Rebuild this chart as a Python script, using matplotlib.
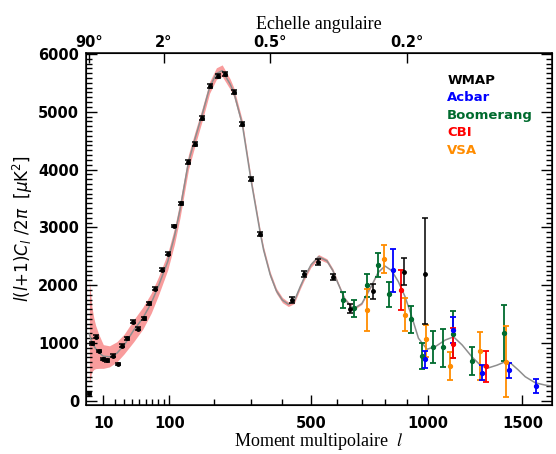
import numpy as np
import matplotlib.pyplot as plt
from matplotlib.ticker import FixedLocator, MultipleLocator, AutoMinorLocator, NullFormatter

# theory curve (l, D_l in muK^2) and its band half widths
theory_l = [2, 3, 4, 5, 7, 10, 15, 22, 30, 42, 55, 68, 80, 97, 110, 121, 139, 153, 170, 188,
            205, 220, 241, 251, 275, 300, 329, 339, 360, 380, 400, 420, 440, 461, 475, 500,
            528, 560, 583, 600, 630, 665, 700, 740, 770, 800, 830, 860, 891, 920, 954, 995,
            1035, 1085, 1127, 1171, 1222, 1265, 1302, 1357, 1403, 1431, 1477, 1516, 1574, 1633, 1673]
theory_D = [1150, 1020, 950, 900, 830, 770, 760, 820, 960, 1220, 1430, 1690, 1980, 2410, 2850, 3300,
            4130, 4520, 4950, 5420, 5660, 5710, 5480, 5340, 4790, 3840, 2890, 2610, 2180, 1900,
            1740, 1670, 1720, 1970, 2120, 2350, 2490, 2420, 2250, 2060, 1760, 1590, 1680, 1980,
            2220, 2330, 2250, 2060, 1800, 1480, 1080, 890, 935, 1050, 1105, 965, 760, 620, 560,
            615, 675, 655, 530, 415, 310, 270, 255]
band_up = [940, 620, 480, 400, 310, 200, 190, 200, 190, 180, 190, 170, 160, 145, 140, 140, 130, 120,
           110, 100, 100, 100, 90, 80, 70, 60, 55, 55, 50, 45, 45, 40, 40, 40, 40, 40, 40, 35, 35,
           30, 25, 20, 15, 10, 5, 0, 0, 0, 0, 0, 0, 0, 0, 0, 0, 0, 0, 0, 0, 0, 0, 0, 0, 0, 0, 0, 0]
band_dn = [850, 520, 410, 345, 270, 210, 175, 150, 150, 200, 190, 175, 160, 145, 140, 140, 130, 120,
           110, 100, 100, 100, 90, 80, 70, 60, 55, 55, 50, 45, 45, 40, 40, 40, 40, 40, 40, 35, 35,
           30, 25, 20, 15, 10, 5, 0, 0, 0, 0, 0, 0, 0, 0, 0, 0, 0, 0, 0, 0, 0, 0, 0, 0, 0, 0, 0, 0]

# WMAP
wmap_l = [2, 3, 5, 7, 10, 13, 18, 23, 28, 34, 41, 48, 56, 65, 75, 86, 97, 109, 123, 139, 153, 170,
          188, 208, 228, 251, 275, 300, 329, 432, 475, 526, 583, 653, 747, 886, 983]
wmap_D = [128, 993, 1107, 860, 721, 699, 779, 635, 952, 1080, 1367, 1246, 1425, 1685, 1938, 2267,
          2543, 3022, 3415, 4135, 4446, 4896, 5450, 5623, 5652, 5346, 4787, 3836, 2884, 1742,
          2187, 2405, 2140, 1592, 1898, 2232, 2187]
wmap_lo = [25] * 19 + [35] * 10 + [45, 50, 50, 55, 75, 130, 230, 865]
wmap_hi = [25] * 19 + [35] * 10 + [45, 50, 50, 55, 75, 130, 230, 970]

acbar_l = [838, 983, 1122, 1274, 1426, 1580]
acbar_D = [2261, 721, 1223, 484, 531, 260]
acbar_hi = [358, 144, 230, 134, 116, 110]
acbar_lo = [375, 160, 230, 126, 133, 122]

boom_l = [621, 669, 721, 771, 820, 920, 970, 1022, 1072, 1122, 1222, 1395]
boom_D = [1742, 1598, 2002, 2348, 1841, 1408, 773, 924, 924, 1154, 692, 1176]
boom_hi = [144, 144, 185, 202, 207, 230, 230, 287, 316, 398, 242, 480]
boom_lo = [144, 155, 203, 202, 215, 232, 230, 277, 336, 420, 247, 484]

cbi_l = [872, 1124, 1297]
cbi_D = [1915, 981, 600]
cbi_hi = [346, 272, 265]
cbi_lo = [346, 237, 271]

vsa_l = [721, 794, 891, 991, 1110, 1265, 1406]
vsa_D = [1569, 2446, 1483, 1067, 600, 865, 675]
vsa_hi = [358, 248, 288, 243, 248, 329, 617]
vsa_lo = [363, 242, 272, 306, 242, 507, 606]

names = ['WMAP', 'Acbar', 'Boomerang', 'CBI', 'VSA']
colors = ['black', '#0000FF', '#006B2E', '#FF0000', '#FF8C00']

ang_l = [2, 90, 360, 900]
ang_lab = ['90°', '2°', '0.5°', '0.2°']

P = 0.593
def fwd(x):
    x = np.asarray(x, dtype=float)
    return np.sign(x) * np.abs(x) ** P
def inv(u):
    u = np.asarray(u, dtype=float)
    return np.sign(u) * np.abs(u) ** (1 / P)

fig = plt.figure(figsize=(5.56, 4.54), dpi=100)
ax = fig.add_axes([86 / 556, 49 / 454, 466 / 556, 352.3 / 454])
ax.set_xscale('function', functions=(fwd, inv))

tl = np.array(theory_l)
td = np.array(theory_D)
ax.fill_between(tl, td - np.array(band_dn), td + np.array(band_up), color='#F99C9C', lw=0, zorder=1)
ax.plot(tl, td, color='#8E8E8E', lw=1.1, zorder=2)

sets = [(wmap_l, wmap_D, wmap_lo, wmap_hi), (acbar_l, acbar_D, acbar_lo, acbar_hi),
        (boom_l, boom_D, boom_lo, boom_hi), (cbi_l, cbi_D, cbi_lo, cbi_hi),
        (vsa_l, vsa_D, vsa_lo, vsa_hi)]
order = [2, 4, 1, 3, 0]
for i in order:
    l, d, lo, hi = sets[i]
    if i == 0:
        ax.errorbar(l, d, yerr=[lo, hi], fmt='o', ms=2.5, color=colors[i], elinewidth=1.1,
                    capsize=2.2, capthick=1.1, zorder=5)
    else:
        ax.errorbar(l, d, yerr=[lo, hi], fmt='o', ms=2.8, color=colors[i], elinewidth=1.3,
                    capsize=2.5, capthick=1.3, zorder=4)

ax.set_xlim(0.87, 1673)
ax.set_ylim(-74, 6021)

ax.xaxis.set_major_locator(FixedLocator([10, 100, 500, 1000, 1500]))
ax.xaxis.set_minor_locator(FixedLocator([20, 30, 40, 50, 60, 70, 80, 90, 200, 300, 400,
                                         600, 700, 800, 900]))
ax.xaxis.set_major_formatter(plt.FuncFormatter(lambda v, p: '%d' % v))
ax.xaxis.set_minor_formatter(NullFormatter())
ax.yaxis.set_major_locator(MultipleLocator(1000))
ax.yaxis.set_minor_locator(AutoMinorLocator(12))
ax.tick_params(which='both', direction='in', top=False, right=True, labelsize=10.5, width=1)
ax.tick_params(axis='x', which='major', length=7, pad=8)
ax.tick_params(axis='x', which='minor', length=4)
ax.tick_params(axis='y', which='major', length=8, pad=5)
ax.tick_params(axis='y', which='minor', length=4)
for lab in ax.get_xticklabels() + ax.get_yticklabels():
    lab.set_fontweight('bold')
for s in ax.spines.values():
    s.set_linewidth(1.1)

ax.set_xlabel('Moment multipolaire  $l$', family='Liberation Serif', fontsize=13,
              math_fontfamily='stix', labelpad=0)
ax.set_ylabel(r'$l(l{+}1)C_l\ /2\pi\ \ [\mu \mathrm{K}^2]$', fontsize=12,
              math_fontfamily='dejavusans', labelpad=2)

ax2 = ax.twiny()
ax2.set_xscale('function', functions=(fwd, inv))
ax2.set_xlim(ax.get_xlim())
ax2.xaxis.set_major_locator(FixedLocator(ang_l))
ax2.xaxis.set_minor_locator(FixedLocator([]))
ax2.set_xticklabels(ang_lab, fontweight='bold')
ax2.tick_params(axis='x', which='major', direction='in', length=7, width=1, labelsize=10.5, pad=2)
ax2.set_xlabel('Echelle angulaire', family='Liberation Serif', fontsize=13, labelpad=4)

for i, (n, c) in enumerate(zip(names, colors)):
    ax.text(0.775, 0.9225 - i * 0.0497, n, color=c, fontsize=9.5, fontweight='bold',
            va='center', ha='left', transform=ax.transAxes)

fig.savefig('out.png', dpi=100)
